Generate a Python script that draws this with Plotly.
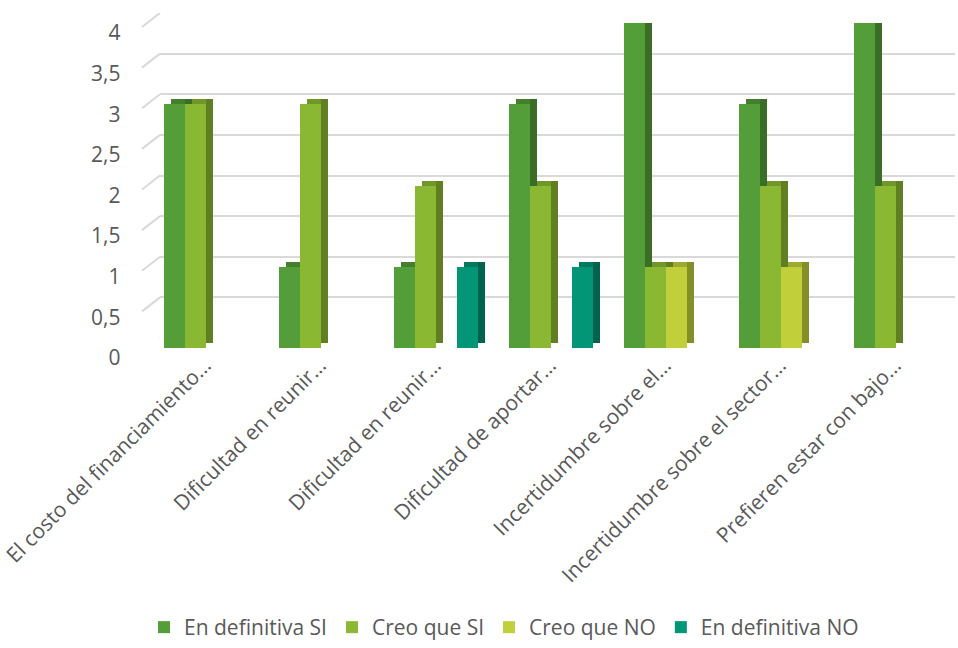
import plotly.graph_objects as go

categories = [
    "El costo del financiamiento…",
    "Dificultad en reunir…",
    "Dificultad en reunir…",
    "Dificultad de aportar…",
    "Incertidumbre sobre el…",
    "Incertidumbre sobre el sector…",
    "Prefieren estar con bajo…",
]
series_names = ["En definitiva SI", "Creo que SI", "Creo que NO", "En definitiva NO"]
en_definitiva_si = [3, 1, 1, 3, 4, 3, 4]
creo_que_si = [3, 3, 2, 2, 1, 2, 2]
creo_que_no = [0, 0, 0, 0, 1, 1, 0]
en_definitiva_no = [0, 0, 1, 1, 0, 0, 0]
y_ticks = [0, 0.5, 1, 1.5, 2, 2.5, 3, 3.5, 4]
y_ticktext = ["0", "0,5", "1", "1,5", "2", "2,5", "3", "3,5", "4"]

series_values = [en_definitiva_si, creo_que_si, creo_que_no, en_definitiva_no]
front_colors = ["#549E39", "#8AB833", "#C0CF3A", "#029676"]
side_colors = ["#3A6E27", "#5F7F22", "#848F27", "#01624E"]
top_colors = ["#447F2E", "#719728", "#9DAA2F", "#017A60"]

W, H = 958, 648
PX_PER_UNIT = 81.25
CAT_PX = 115.0

bar_w = 21.0 / CAT_PX
start_off = -42.0 / CAT_PX
dx = 7.0 / CAT_PX
dy = 5.0 / PX_PER_UNIT

xpos = list(range(len(categories)))

fig = go.Figure()

# dummy trace for background (gridline) subplot
fig.add_trace(go.Scatter(x=[], y=[], xaxis="x", yaxis="y", showlegend=False, hoverinfo="skip"))

# top faces
for k, vals in enumerate(series_values):
    fig.add_trace(go.Bar(
        x=xpos, y=vals, base=[dy] * len(vals), width=bar_w,
        offset=start_off + k * bar_w + dx,
        marker=dict(color=top_colors[k], line=dict(width=0)),
        xaxis="x2", yaxis="y2", showlegend=False, hoverinfo="skip",
    ))
# side faces
for k, vals in enumerate(series_values):
    fig.add_trace(go.Bar(
        x=xpos, y=vals, base=[dy] * len(vals), width=dx,
        offset=start_off + (k + 1) * bar_w,
        marker=dict(color=side_colors[k], line=dict(width=0)),
        xaxis="x2", yaxis="y2", showlegend=False, hoverinfo="skip",
    ))
# front faces
for k, vals in enumerate(series_values):
    fig.add_trace(go.Bar(
        x=xpos, y=vals, width=bar_w,
        offset=start_off + k * bar_w,
        name=series_names[k],
        marker=dict(color=front_colors[k], line=dict(width=0)),
        xaxis="x2", yaxis="y2",
    ))

# diagonal floor/grid edges on the left side
for v in y_ticks:
    fig.add_shape(type="line", xref="paper", yref="y",
                  x0=142 / W, x1=160 / W, y0=v - 14 / PX_PER_UNIT, y1=v,
                  line=dict(color="#D9D9D9", width=2), layer="below")

font_main = "Open Sans, Noto Sans, sans-serif"

fig.update_layout(
    width=W, height=H,
    margin=dict(l=0, r=0, t=0, b=0, autoexpand=False),
    template="none",
    paper_bgcolor="white",
    plot_bgcolor="rgba(0,0,0,0)",
    barmode="overlay",
    bargap=0,
    font=dict(family=font_main, color="#595959"),
    xaxis=dict(domain=[160 / W, 955 / W], range=[0, 1], showgrid=False, showticklabels=False,
               zeroline=False, showline=False, ticks="", automargin=False),
    yaxis=dict(domain=[1 - 338 / H, 1 - 13 / H], range=[0, 4], tickvals=y_ticks,
               showgrid=True, gridcolor="#D9D9D9", gridwidth=2, showticklabels=False,
               zeroline=False, showline=False, ticks="", automargin=False),
    xaxis2=dict(domain=[147.5 / W, 952.5 / W], range=[-0.5, 6.5], anchor="y2",
                tickvals=xpos, ticktext=categories, tickangle=-45,
                tickfont=dict(size=21, color="#595959", family=font_main),
                ticklabeloverflow="allow",
                showgrid=False, zeroline=False, showline=False, ticks="", automargin=False),
    yaxis2=dict(domain=[1 - 348 / H, 1 - 23 / H], range=[0, 4], anchor="x2",
                tickvals=y_ticks, ticktext=y_ticktext,
                tickfont=dict(size=21, color="#595959", family=font_main),
                ticklabelshift=10, ticklabelstandoff=26,
                showgrid=False, zeroline=False, showline=False, ticks="", automargin=False),
    legend=dict(orientation="h", x=504 / W, xanchor="center", y=0, yanchor="bottom",
                font=dict(size=21, color="#595959", family=font_main),
                bgcolor="rgba(0,0,0,0)", itemclick=False, itemdoubleclick=False),
    showlegend=True,
)

fig.write_html("out.html")
